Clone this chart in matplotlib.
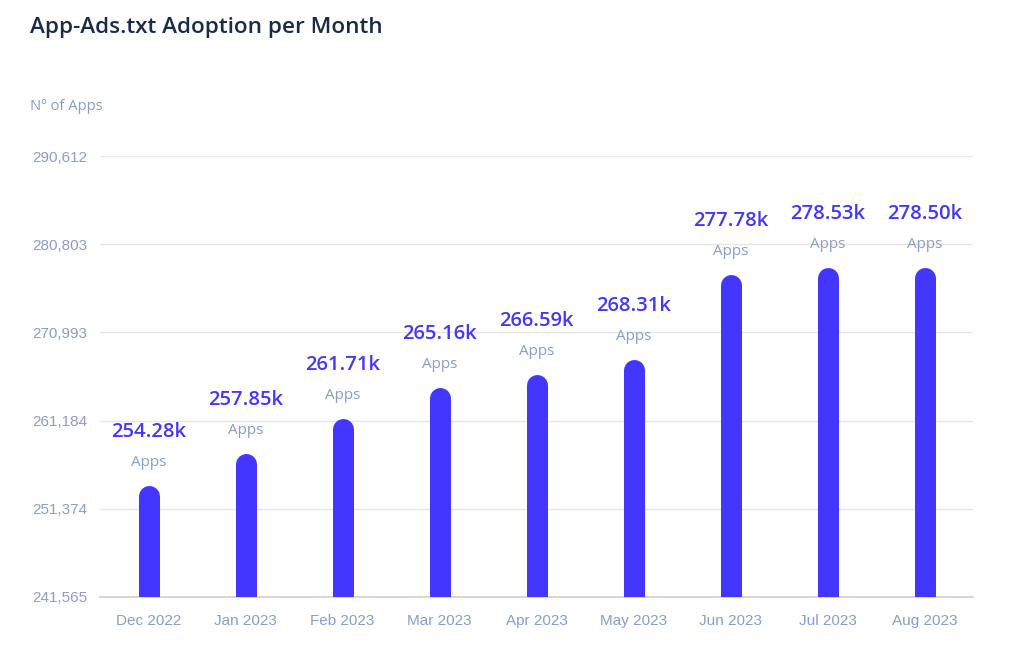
import matplotlib
matplotlib.use("Agg")
import matplotlib.pyplot as plt
import numpy as np

categories = ["Dec 2022", "Jan 2023", "Feb 2023", "Mar 2023", "Apr 2023",
              "May 2023", "Jun 2023", "Jul 2023", "Aug 2023"]
values = [254280, 257850, 261710, 265160, 266590, 268310, 277780, 278530, 278500]
value_labels = ["254.28k", "257.85k", "261.71k", "265.16k", "266.59k",
                "268.31k", "277.78k", "278.53k", "278.50k"]
yticks = [241565, 251374, 261184, 270993, 280803, 290612]

BAR = "#4336FF"
LABEL = "#8A9CC8"
TITLE = "#1A2B45"

W, H = 1024, 646
fig = plt.figure(figsize=(W / 100, H / 100), dpi=100)
ax = fig.add_axes([100 / W, 49 / H, 873 / W, (597 - 156) / H])

ymin, ymax = yticks[0], yticks[-1]
ax.set_xlim(-0.5, len(categories) - 0.5)
ax.set_ylim(ymin, ymax)

# pixel scale
px_per_y = (597 - 156) / (ymax - ymin)
bar_px = 21
r_data = (bar_px / 2) / px_per_y
inset = 3 / px_per_y
lw_pt = bar_px * 72 / 100

x = np.arange(len(categories))
for xi, v, lab in zip(x, values, value_labels):
    ax.plot([xi, xi], [ymin - 3 * r_data, v - r_data - inset], color=BAR, lw=lw_pt,
            solid_capstyle="round", zorder=3, clip_on=True)
    ax.annotate("Apps", (xi, v), xytext=(0, 20 * 0.72), textcoords="offset points",
                ha="center", va="center", fontsize=11, color=LABEL,
                family="Open Sans", annotation_clip=False)
    ax.annotate(lab, (xi, v), xytext=(0, 50.5 * 0.72),
                textcoords="offset points", ha="center", va="center",
                fontsize=14.6, color=BAR, family="Open Sans", weight="semibold",
                annotation_clip=False)

ax.set_yticks(yticks)
ax.set_yticklabels([f"{t:,}" for t in yticks], family="Liberation Sans",
                   fontsize=11, color=LABEL)
ax.set_xticks(x)
ax.set_xticklabels(categories, family="Liberation Sans", fontsize=11, color=LABEL)
ax.tick_params(axis="y", length=0, pad=13 * 0.72)
ax.tick_params(axis="x", length=0, pad=17 * 0.72)
ax.grid(axis="y", color="#E6E6E6", lw=1)
ax.set_axisbelow(True)
for s in ["top", "right", "left"]:
    ax.spines[s].set_visible(False)
ax.spines["bottom"].set_color("#CFCFCF")
ax.spines["bottom"].set_linewidth(1.2)

fig.text(30 / W, 1 - 28 / H, "App-Ads.txt Adoption per Month", family="Open Sans",
         weight="semibold", fontsize=16.2, color=TITLE, ha="left", va="center")
fig.text(30 / W, 1 - 106 / H, "Nº of Apps", family="Open Sans", fontsize=10.6,
         color=LABEL, ha="left", va="center")

fig.savefig("out.png", dpi=100)
